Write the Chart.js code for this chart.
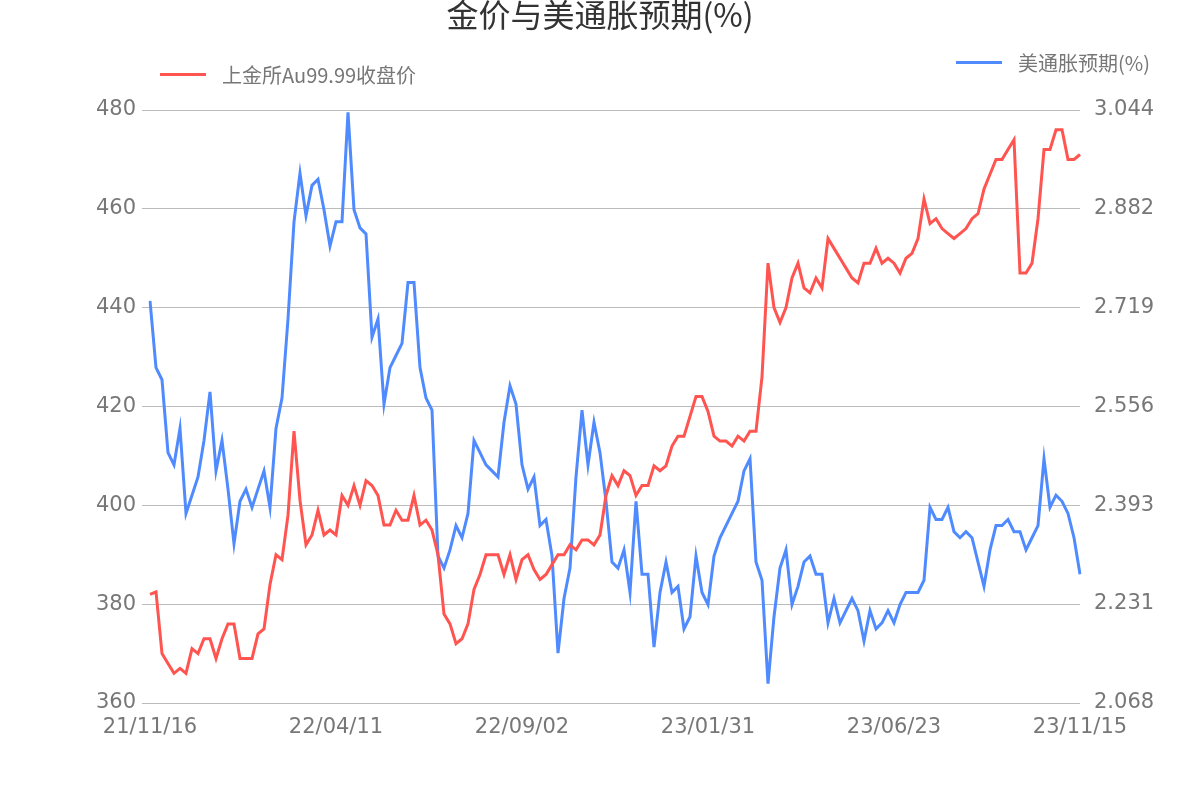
<!DOCTYPE html>
<html>
<head>
<meta charset="utf-8">
<script src="https://cdn.jsdelivr.net/npm/chart.js@4"></script>
<style>
  body { margin: 0; background: #fff; font-family: "Noto Sans CJK SC", "Noto Sans", sans-serif; }
  #wrap { position: relative; width: 1200px; height: 800px; }
  #title { position: absolute; top: -10px; width: 1200px; text-align: center; font-size: 32px; color: #333; }
  .leg { position: absolute; font-size: 20px; color: #777; display: flex; align-items: center; }
  .leg span { display: inline-block; width: 46px; height: 3px; margin-right: 16px; }
</style>
</head>
<body>
<div id="wrap">
  <div id="title">金价与美通胀预期(%)</div>
  <div class="leg" style="left:160px; top:60px;"><span style="background:#ff5450"></span>上金所Au99.99收盘价</div>
  <div class="leg" style="left:956px; top:48px;"><span style="background:#4f8bff"></span>美通胀预期(%)</div>
  <canvas id="chart" width="1200" height="800"></canvas>
</div>
<script>
const tickLabels = ["21/11/16", "22/04/11", "22/09/02", "23/01/31", "23/06/23", "23/11/15"];
const tickEvery = 31;

const goldPrice = [
  382, 382.5, 370, 368, 366, 367, 366, 371, 370, 373, 373, 369, 373, 376, 376, 369, 369, 369, 374, 375,
  384, 390, 389, 398, 415, 401, 392, 394, 399, 394, 395, 394, 402, 400, 404, 400, 405, 404, 402, 396,
  396, 399, 397, 397, 402, 396, 397, 395, 390, 378, 376, 372, 373, 376, 383, 386, 390, 390, 390, 386,
  390, 385, 389, 390, 387, 385, 386, 388, 390, 390, 392, 391, 393, 393, 392, 394, 402, 406, 404, 407,
  406, 402, 404, 404, 408, 407, 408, 412, 414, 414, 418, 422, 422, 419, 414, 413, 413, 412, 414, 413,
  415, 415, 426, 449, 440, 437, 440, 446, 449, 444, 443, 446, 444, 454, 452, 450, 448, 446, 445, 449,
  449, 452, 449, 450, 449, 447, 450, 451, 454, 462, 457, 458, 456, 455, 454, 455, 456, 458, 459, 464,
  467, 470, 470, 472, 474, 447, 447, 449, 458, 472, 472, 476, 476, 470, 470, 471
];

const inflationExp = [
  2.73, 2.62, 2.60, 2.48, 2.46, 2.52, 2.38, 2.41, 2.44, 2.50, 2.58, 2.45, 2.50, 2.42, 2.33, 2.40, 2.42, 2.39, 2.42, 2.45,
  2.39, 2.52, 2.57, 2.70, 2.86, 2.94, 2.87, 2.92, 2.93, 2.88, 2.82, 2.86, 2.86, 3.04, 2.88, 2.85, 2.84, 2.67, 2.70, 2.56,
  2.62, 2.64, 2.66, 2.76, 2.76, 2.62, 2.57, 2.55, 2.31, 2.29, 2.32, 2.36, 2.34, 2.38, 2.50, 2.48, 2.46, 2.45, 2.44, 2.53,
  2.59, 2.56, 2.46, 2.42, 2.44, 2.36, 2.37, 2.31, 2.15, 2.24, 2.29, 2.44, 2.55, 2.46, 2.53, 2.48, 2.40, 2.30, 2.29, 2.32,
  2.25, 2.40, 2.28, 2.28, 2.16, 2.25, 2.30, 2.25, 2.26, 2.19, 2.21, 2.31, 2.25, 2.23, 2.31, 2.34, 2.36, 2.38, 2.40, 2.45,
  2.47, 2.30, 2.27, 2.10, 2.21, 2.29, 2.32, 2.23, 2.26, 2.30, 2.31, 2.28, 2.28, 2.20, 2.24, 2.20, 2.22, 2.24, 2.22, 2.17,
  2.22, 2.19, 2.20, 2.22, 2.20, 2.23, 2.25, 2.25, 2.25, 2.27, 2.39, 2.37, 2.37, 2.39, 2.35, 2.34, 2.35, 2.34, 2.30, 2.26,
  2.32, 2.36, 2.36, 2.37, 2.35, 2.35, 2.32, 2.34, 2.36, 2.47, 2.39, 2.41, 2.40, 2.38, 2.34, 2.28
];

const leftTicks = [360, 380, 400, 420, 440, 460, 480];
const rightTicks = [2.068, 2.231, 2.393, 2.556, 2.719, 2.882, 3.044];

// category labels: tick label every tickEvery points, blank otherwise
const categories = goldPrice.map((v, i) => i % tickEvery === 0 ? tickLabels[i / tickEvery] : "");

const tickFont = { family: "DejaVu Sans", size: 21 };
const tickColor = "#777";

new Chart(document.getElementById("chart").getContext("2d"), {
    type: "line",
    data: {
        labels: categories,
        datasets: [{
            label: "上金所Au99.99收盘价",
            data: goldPrice,
            borderColor: "#ff5450",
            borderWidth: 3,
            pointRadius: 0,
            yAxisID: "y"
        }, {
            label: "美通胀预期(%)",
            data: inflationExp,
            borderColor: "#4f8bff",
            borderWidth: 3,
            pointRadius: 0,
            yAxisID: "y1"
        }]
    },
    options: {
        responsive: false,
        animation: false,
        layout: { padding: { top: 110, bottom: 0, left: 0, right: 0 } },
        plugins: { legend: { display: false }, tooltip: { enabled: false } },
        scales: {
            x: {
                grid: { display: false },
                border: { display: false },
                ticks: {
                    autoSkip: false, maxRotation: 0, font: tickFont, color: tickColor, padding: 4,
                    callback: (v, i) => categories[i]
                },
                afterFit: s => { s.height = 97; }
            },
            y: {
                position: "left", min: 360, max: 480,
                afterBuildTicks: s => { s.ticks = leftTicks.map(v => ({ value: v })); },
                grid: { color: "#bbb" },
                border: { display: false },
                ticks: { font: tickFont, color: tickColor, padding: 6 },
                afterFit: s => { s.width = 150; }
            },
            y1: {
                position: "right", min: 2.068, max: 3.044,
                afterBuildTicks: s => { s.ticks = rightTicks.map(v => ({ value: v })); },
                grid: { display: false },
                border: { display: false },
                ticks: { font: tickFont, color: tickColor, padding: 6, callback: v => v.toFixed(3) },
                afterFit: s => { s.width = 120; }
            }
        }
    }
});
</script>
</body>
</html>
